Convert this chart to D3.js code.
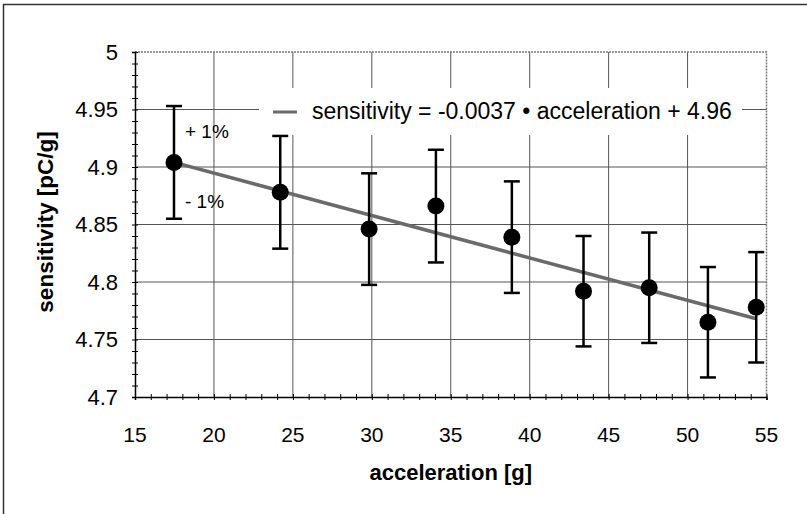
<!DOCTYPE html>
<html>
<head>
<meta charset="utf-8">
<script src="https://cdn.jsdelivr.net/npm/d3@7"></script>
<style>
  body { margin: 0; background: #fff; }
  text { font-family: Arial, "Liberation Sans", Helvetica, sans-serif; fill: #000; }
</style>
</head>
<body>
<svg id="chart" width="807" height="514"></svg>
<script>
// measured values
const acceleration = [17.47, 24.2, 29.83, 34.06, 38.87, 43.41, 47.57, 51.29, 54.35];
const sensitivity = [4.904, 4.878, 4.846, 4.866, 4.839, 4.792, 4.795, 4.765, 4.778];
const errors = [0.049, 0.049, 0.0485, 0.049, 0.0485, 0.048, 0.048, 0.048, 0.048];

// linear fit endpoints
const trendX = [17.47, 54.35];
const trendY = [4.904, 4.768];

const xTicks = [15, 20, 25, 30, 35, 40, 45, 50, 55];
const yTicks = [4.7, 4.75, 4.8, 4.85, 4.9, 4.95, 5];
const yTickLabels = ['4.7', '4.75', '4.8', '4.85', '4.9', '4.95', '5'];

const legendLabel = 'sensitivity = -0.0037 \u2022 acceleration + 4.96';

const plotLeft = 135, plotRight = 766.5, plotTop = 52, plotBottom = 397;

const svg = d3.select('#chart');

const x = d3.scaleLinear().domain([15, 55]).range([plotLeft, plotRight]);
const y = d3.scaleLinear().domain([4.7, 5]).range([plotBottom, plotTop]);

// outer frame (cut at right/bottom)
svg.append('path')
  .attr('d', `M3.5,514 L3.5,4.5 L807,4.5`)
  .attr('fill', 'none')
  .attr('stroke', '#333')
  .attr('stroke-width', 1.5);

// grid
const grid = svg.append('g');
grid.selectAll('line.h')
  .data(yTicks.slice(1, -1))
  .enter().append('line')
  .attr('class', 'h')
  .attr('x1', plotLeft).attr('x2', plotRight)
  .attr('y1', d => y(d)).attr('y2', d => y(d))
  .attr('stroke', '#555').attr('stroke-width', 1);
grid.selectAll('line.v')
  .data(xTicks.slice(1, -1))
  .enter().append('line')
  .attr('class', 'v')
  .attr('x1', d => x(d)).attr('x2', d => x(d))
  .attr('y1', plotTop).attr('y2', plotBottom)
  .attr('stroke', '#555').attr('stroke-width', 1);

// top and right border of plot area
svg.append('path')
  .attr('d', `M${plotLeft},${plotTop} L${plotRight},${plotTop} L${plotRight},${plotBottom}`)
  .attr('fill', 'none')
  .attr('stroke', '#777')
  .attr('stroke-width', 1.5)
  .attr('stroke-dasharray', '2,1');

// axes
const xAxis = svg.append('g')
  .attr('transform', `translate(0,${plotBottom})`)
  .call(d3.axisBottom(x).ticks(40).tickSize(3).tickFormat(''));
xAxis.selectAll('.tick line').attr('y1', -3).attr('stroke', '#000');
xAxis.select('.domain').attr('stroke', '#000').attr('stroke-width', 1.5);

const yAxis = svg.append('g')
  .attr('transform', `translate(${plotLeft},0)`)
  .call(d3.axisLeft(y).ticks(30).tickSize(3).tickFormat(''));
yAxis.selectAll('.tick line').attr('x1', 3).attr('stroke', '#000');
yAxis.select('.domain').attr('stroke', '#000').attr('stroke-width', 1.5);

// tick labels
svg.append('g').selectAll('text')
  .data(xTicks)
  .enter().append('text')
  .attr('x', d => x(d))
  .attr('y', 442)
  .attr('text-anchor', 'middle')
  .attr('font-size', 21)
  .text(d => d);

svg.append('g').selectAll('text')
  .data(yTicks)
  .enter().append('text')
  .attr('x', 118)
  .attr('y', d => y(d) + 7.5)
  .attr('text-anchor', 'end')
  .attr('font-size', 22)
  .text((d, i) => yTickLabels[i]);

// axis titles
svg.append('text')
  .attr('x', (plotLeft + plotRight) / 2)
  .attr('y', 480)
  .attr('text-anchor', 'middle')
  .attr('font-size', 22)
  .attr('font-weight', 'bold')
  .text('acceleration [g]');

svg.append('text')
  .attr('transform', 'translate(53,222) rotate(-90)')
  .attr('text-anchor', 'middle')
  .attr('font-size', 22.5)
  .attr('font-weight', 'bold')
  .text('sensitivity [pC/g]');

// legend box
svg.append('rect')
  .attr('x', 259).attr('y', 88)
  .attr('width', 483).attr('height', 47)
  .attr('fill', '#fff');

// trend line
const line = d3.line().x(d => x(d[0])).y(d => y(d[1]));
svg.append('path')
  .datum(d3.zip(trendX, trendY))
  .attr('d', line)
  .attr('fill', 'none')
  .attr('stroke', '#6a6a6a')
  .attr('stroke-width', 3.5);

// error bars
const data = d3.zip(acceleration, sensitivity, errors);
const bars = svg.append('g').selectAll('g')
  .data(data)
  .enter().append('g');
bars.append('line')
  .attr('x1', d => x(d[0])).attr('x2', d => x(d[0]))
  .attr('y1', d => y(d[1] + d[2])).attr('y2', d => y(d[1] - d[2]))
  .attr('stroke', '#000').attr('stroke-width', 2.5);
bars.append('line')
  .attr('x1', d => x(d[0]) - 8).attr('x2', d => x(d[0]) + 8)
  .attr('y1', d => y(d[1] + d[2])).attr('y2', d => y(d[1] + d[2]))
  .attr('stroke', '#000').attr('stroke-width', 2.5);
bars.append('line')
  .attr('x1', d => x(d[0]) - 8).attr('x2', d => x(d[0]) + 8)
  .attr('y1', d => y(d[1] - d[2])).attr('y2', d => y(d[1] - d[2]))
  .attr('stroke', '#000').attr('stroke-width', 2.5);

// points
svg.append('g').selectAll('circle')
  .data(data)
  .enter().append('circle')
  .attr('cx', d => x(d[0]))
  .attr('cy', d => y(d[1]))
  .attr('r', 8.5)
  .attr('fill', '#000');

// legend
svg.append('line')
  .attr('x1', 273).attr('x2', 297)
  .attr('y1', 112).attr('y2', 112)
  .attr('stroke', '#6a6a6a').attr('stroke-width', 3);
svg.append('text')
  .attr('x', 312)
  .attr('y', 119)
  .attr('font-size', 23)
  .text(legendLabel);

// +/- 1% notes
svg.append('text')
  .attr('x', 185).attr('y', 138)
  .attr('font-size', 19)
  .text('+ 1%');
svg.append('text')
  .attr('x', 185).attr('y', 208)
  .attr('font-size', 19)
  .text('- 1%');
</script>
</body>
</html>
